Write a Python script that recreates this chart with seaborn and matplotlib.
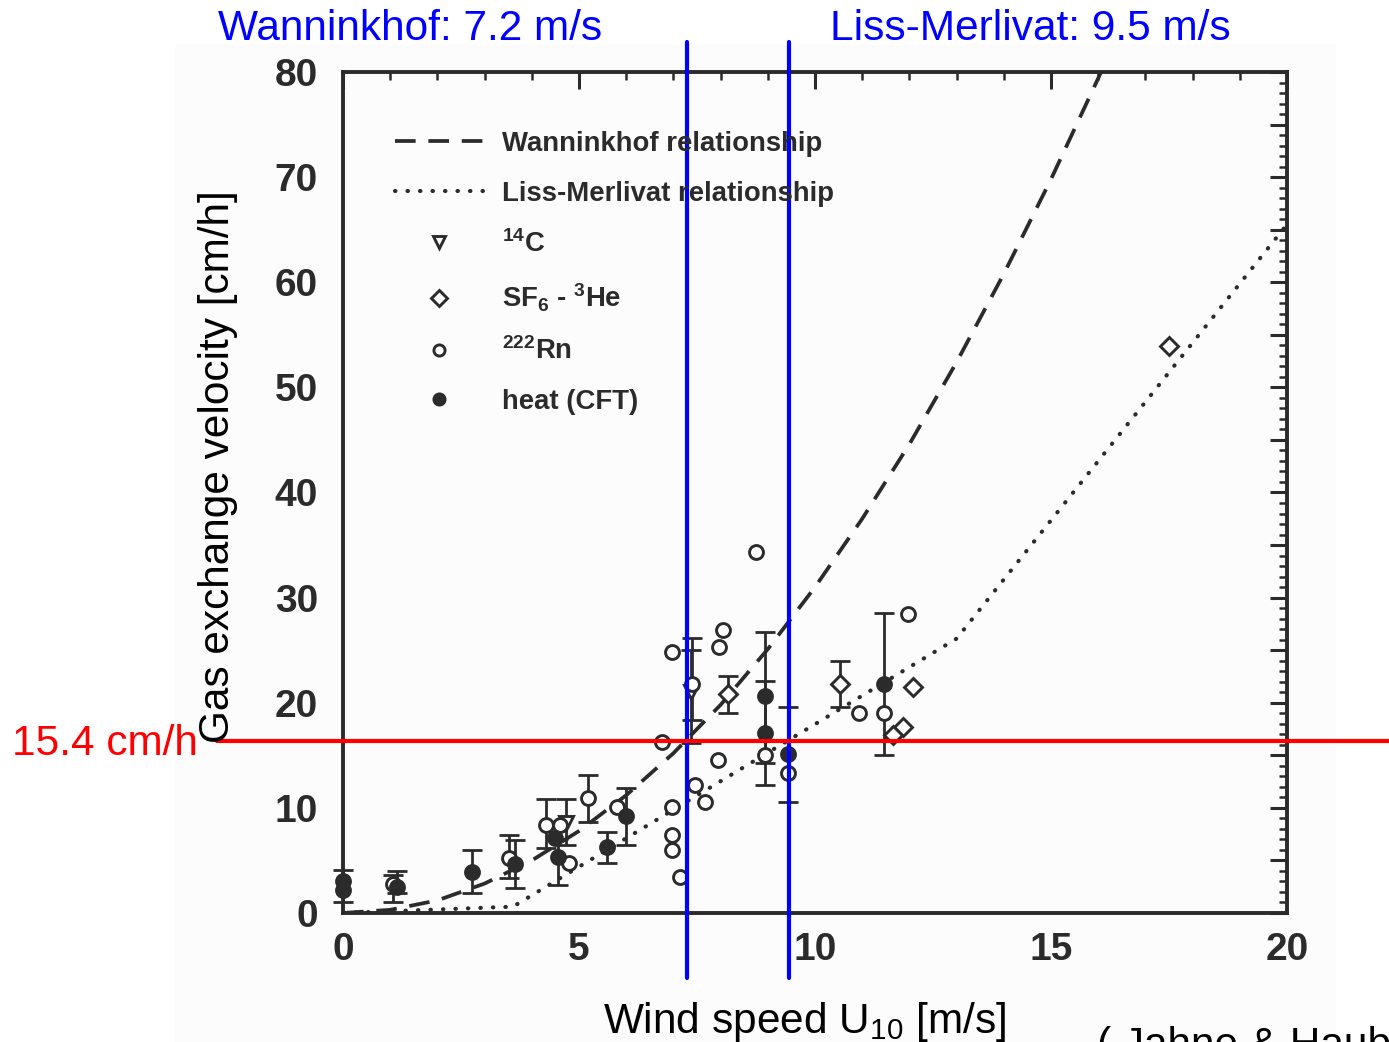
import numpy as np
import seaborn as sns
import matplotlib.pyplot as plt
from matplotlib.patches import Rectangle
from matplotlib.ticker import MultipleLocator, FuncFormatter

# Relationship curves (U10 in m/s, k in cm/h)
wann_u = [0, 1, 2, 3, 4, 5, 6, 7, 8, 9, 10, 11, 12, 13, 14, 15, 16, 16.5]
wann_k = [0, 0.3, 1.2, 2.8, 5.0, 7.8, 11.2, 15.2, 19.8, 25.1, 31.0, 37.5, 44.6, 52.4, 60.8, 69.8, 79.4, 84.4]
lm_u = [0, 3.6, 13, 20]
lm_k = [0, 0.6, 26.1, 65.5]

# Measurements
c14_x = [4.72, 7.38]
c14_y = [8.6, 21.0]
sf6_x = [8.16, 10.53, 12.08, 11.86, 11.65, 17.5]
sf6_y = [20.8, 21.8, 21.5, 17.7, 16.9, 53.9]
rn_x = [1.05, 3.52, 4.3, 4.6, 4.78, 5.2, 5.8, 6.76, 6.97, 6.97, 6.97, 6.97, 7.14, 7.4,
        7.46, 7.67, 7.94, 7.97, 8.05, 8.75, 8.94, 9.43, 10.93, 11.46, 11.97]
rn_y = [2.8, 5.2, 8.4, 8.4, 4.8, 10.9, 10.1, 16.3, 24.8, 10.1, 7.4, 6.0, 3.4, 21.8,
        12.2, 10.6, 14.6, 25.3, 26.9, 34.3, 15.0, 13.3, 19.0, 19.0, 28.4]
heat_x = [0, 0, 1.15, 2.73, 3.65, 4.5, 4.55, 5.6, 6.0, 8.94, 8.94, 9.43, 11.46]
heat_y = [3.0, 2.2, 2.5, 3.9, 4.7, 7.1, 5.3, 6.3, 9.2, 20.6, 17.1, 15.1, 21.8]

# Error bars: position, lower end, upper end
err_x = [0, 1.15, 1.05, 2.73, 3.52, 3.65, 4.3, 4.55, 4.72, 5.2, 5.6, 6.0,
         7.38, 7.4, 8.16, 8.94, 8.94, 9.43, 10.53, 11.46]
err_lo = [1.0, 1.9, 1.0, 1.9, 3.3, 2.4, 6.2, 2.7, 6.5, 8.7, 4.8, 6.5,
          16.2, 18.4, 19.0, 14.3, 12.2, 10.6, 19.6, 15.0]
err_hi = [4.1, 4.0, 3.6, 6.0, 7.4, 6.9, 10.8, 7.0, 10.8, 13.1, 7.7, 11.9,
          25.0, 26.2, 22.5, 26.7, 22.1, 19.6, 24.0, 28.5]

# Overlay marks
wann_mark_u = 7.28
lm_mark_u = 9.45
k_mark = 16.4

INK = "#2b2b2b"
BLUE = "#0000ff"
RED = "#ff0000"

sns.set_style("white")
plt.rcParams["font.family"] = ["Liberation Sans", "DejaVu Sans"]
plt.rcParams["mathtext.default"] = "regular"

W, H = 1389, 1042
fig = plt.figure(figsize=(W / 100, H / 100), dpi=100)
# faint tint of the scanned page
fig.patches.append(Rectangle((175 / W, 0), (1335 - 175) / W, 1 - 45 / H,
                             transform=fig.transFigure, color="#fcfcfc", zorder=-10))
ax = fig.add_axes([343 / W, 1 - 913 / H, 944 / W, 841 / H])
ax.set_facecolor("none")

sns.lineplot(x=wann_u, y=wann_k, ax=ax, color=INK, lw=2.7, ls=(0, (5.5, 3.4)),
             label="Wanninkhof relationship")
sns.lineplot(x=lm_u, y=lm_k, ax=ax, color=INK, lw=3.0, ls=(0, (0.1, 2.9)),
             label="Liss-Merlivat relationship")
ax.lines[-1].set_dash_capstyle("round")

ax.errorbar(err_x, [(a + b) / 2 for a, b in zip(err_lo, err_hi)],
            yerr=[(b - a) / 2 for a, b in zip(err_lo, err_hi)], fmt="none",
            ecolor=INK, elinewidth=2.0, capsize=7, capthick=2.0, clip_on=False)

mk = dict(ls="none", color=INK, mec=INK, mew=2.1, ms=10, clip_on=False)
ax.plot(c14_x, c14_y, marker="v", mfc="white", label=r"$^{14}$C", **mk)
ax.plot(sf6_x, sf6_y, marker="D", mfc="white", label=r"SF$_6$ - $^3$He", **{**mk, "ms": 9})
ax.plot(rn_x, rn_y, marker="o", mfc="white", label=r"$^{222}$Rn", **mk)
ax.plot(heat_x, heat_y, marker="o", mfc=INK, label="heat (CFT)", **mk)

ax.set_xlim(0, 20)
ax.set_ylim(0, 80)
ax.xaxis.set_major_locator(MultipleLocator(5))
ax.xaxis.set_minor_locator(MultipleLocator(1))
ax.yaxis.set_major_locator(MultipleLocator(5))
ax.yaxis.set_minor_locator(MultipleLocator(1))
ax.yaxis.set_major_formatter(FuncFormatter(lambda v, p: f"{v:.0f}" if v % 10 == 0 else ""))
ax.tick_params(which="both", direction="in", top=True, right=True, color=INK,
               labelcolor=INK, labelsize=28)
ax.tick_params(which="major", length=12, width=2.2)
ax.tick_params(which="minor", length=6, width=1.8)
ax.tick_params(axis="y", pad=18)
ax.tick_params(axis="x", pad=14)
for lab in ax.get_xticklabels() + ax.get_yticklabels():
    lab.set_fontweight("bold")
for s in ax.spines.values():
    s.set_linewidth(2.8)
    s.set_color(INK)
ax.set_xlabel("")
ax.set_ylabel("")

leg = ax.legend(loc="upper left", bbox_to_anchor=(0.055, 0.93), frameon=False,
                handlelength=3.2, handletextpad=0.7, labelspacing=0.86,
                borderpad=0, borderaxespad=0, prop={"weight": "bold", "size": 19.8})
for t in leg.get_texts():
    t.set_color(INK)
for h in leg.legend_handles[2:]:
    h.set_markersize(8)

# Overlay lines and notes
for u in (wann_mark_u, lm_mark_u):
    ax.axvline(u, ymin=-0.077, ymax=1.036, color=BLUE, lw=3, clip_on=False, zorder=5)
ax.axhline(k_mark, xmin=-0.133, xmax=1.11, color=RED, lw=3, clip_on=False, zorder=5)

fig.text(218 / W, 1 - 40 / H, "Wanninkhof: 7.2 m/s", color=BLUE, fontsize=30.5, va="baseline")
fig.text(830 / W, 1 - 40 / H, "Liss-Merlivat: 9.5 m/s", color=BLUE, fontsize=30.5, va="baseline")
fig.text(12 / W, 1 - 755 / H, "15.4 cm/h", color=RED, fontsize=30.5, va="baseline")
fig.text(218 / W, 1 - 467 / H, "Gas exchange velocity [cm/h]", color="black", fontsize=30.5,
         rotation=90, ha="center", va="center")
fig.text(603 / W, 1 - 1033 / H, "Wind speed U$_{10}$ [m/s]", color="black", fontsize=30.5,
         va="baseline")
# source note runs off the lower edge, as in the original slide
fig.text(1097 / W, 1 - 1026 / H, "( Jahne & Haubecker, 1998)", color="black", fontsize=30.5,
         va="top")

fig.savefig("out.png", dpi=100)
